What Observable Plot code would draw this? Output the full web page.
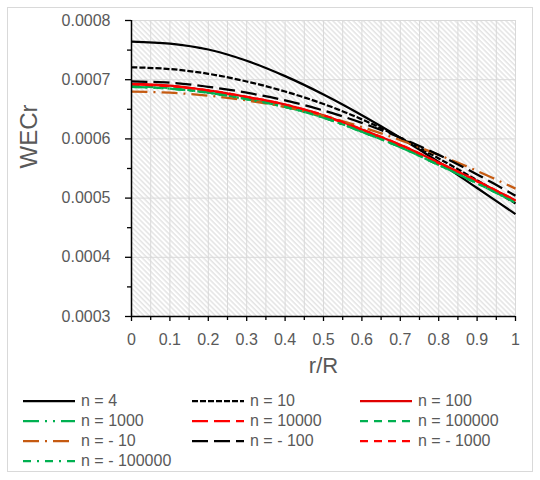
<!DOCTYPE html>
<html><head><meta charset="utf-8">
<script src="https://cdn.jsdelivr.net/npm/d3@7"></script>
<script src="https://cdn.jsdelivr.net/npm/@observablehq/plot@0.6"></script>
<style>
body{margin:0;background:#fff;font-family:"Liberation Sans",Arial,sans-serif;}
#wrap{position:relative;width:540px;height:480px;overflow:hidden}
#border{position:absolute;left:7px;top:7px;width:526px;height:465px;border:1px solid #d9d9d9;box-sizing:border-box}
#chart{position:absolute;left:0;top:0}
.item{position:absolute;height:20px;display:flex;align-items:center;font-size:16px;color:#595959;white-space:nowrap}
.item svg{margin-right:6px}
</style></head>
<body>
<div id="wrap"><div id="border"></div><div id="chart"></div><div id="legend"></div></div>
<script>
// ---- data ----
const xs = [0, 0.1, 0.2, 0.3, 0.4, 0.5, 0.6, 0.7, 0.8, 0.9, 1];
const seriesNames = ["n = 4", "n = 10", "n = 100", "n = 1000", "n = 10000", "n = 100000", "n = - 10", "n = - 100", "n = - 1000", "n = - 100000"];
const n4      = [0.0007645, 0.000761, 0.000751, 0.000732, 0.000706, 0.000675, 0.000640, 0.000602, 0.000561, 0.000517, 0.000473];
const n10     = [0.000721, 0.000718, 0.000710, 0.000697, 0.000680, 0.000659, 0.000633, 0.000602, 0.000567, 0.000530, 0.000491];
const n100    = [0.000693, 0.000690, 0.000682, 0.000671, 0.000658, 0.000640, 0.000616, 0.000590, 0.000560, 0.000529, 0.000496];
const n1000   = [0.000688, 0.000685, 0.000678, 0.000667, 0.000654, 0.000636, 0.000612, 0.000586, 0.000556, 0.000525, 0.000493];
const n10000  = [0.000692, 0.000689, 0.000681, 0.000670, 0.000657, 0.000639, 0.000615, 0.000589, 0.000559, 0.000528, 0.000495];
const n100000 = [0.000689, 0.000686, 0.000678, 0.000667, 0.000654, 0.000636, 0.000612, 0.000586, 0.000556, 0.000525, 0.000493];
const nm10    = [0.000680, 0.000678, 0.000673, 0.000665, 0.000654, 0.000639, 0.000620, 0.000598, 0.000573, 0.000546, 0.000516];
const nm100   = [0.000697, 0.000695, 0.000688, 0.000678, 0.000665, 0.000648, 0.000627, 0.000602, 0.000573, 0.000540, 0.000504];
const nm1000  = [0.000692, 0.000689, 0.000682, 0.000671, 0.000658, 0.000640, 0.000616, 0.000590, 0.000560, 0.000529, 0.000496];
const nm100000= [0.000688, 0.000685, 0.000678, 0.000667, 0.000654, 0.000636, 0.000612, 0.000586, 0.000556, 0.000525, 0.000492];
const xTicks = [0, 0.1, 0.2, 0.3, 0.4, 0.5, 0.6, 0.7, 0.8, 0.9, 1];
const xTickLabels = ["0", "0.1", "0.2", "0.3", "0.4", "0.5", "0.6", "0.7", "0.8", "0.9", "1"];
const xMinorTicks = [0.05, 0.15, 0.25, 0.35, 0.45, 0.55, 0.65, 0.75, 0.85, 0.95];
const yTicks = [0.0003, 0.0004, 0.0005, 0.0006, 0.0007, 0.0008];
const yTickLabels = ["0.0003", "0.0004", "0.0005", "0.0006", "0.0007", "0.0008"];
const yMinorTicks = [0.00035, 0.00045, 0.00055, 0.00065, 0.00075];
const xLabel = "r/R";
const yLabel = "WECr";

// ---- styles ----
const seriesValues = [n4, n10, n100, n1000, n10000, n100000, nm10, nm100, nm1000, nm100000];
const styles = [
  {stroke: "#000000", dash: null},
  {stroke: "#000000", dash: "6,2"},
  {stroke: "#e00000", dash: null},
  {stroke: "#00b050", dash: "16,6,2,6,2,6"},
  {stroke: "#ff0000", dash: "16,6"},
  {stroke: "#00b050", dash: "8,6"},
  {stroke: "#c55a11", dash: "16,6,2,6"},
  {stroke: "#000000", dash: "16,6"},
  {stroke: "#ff0000", dash: "8,6"},
  {stroke: "#00b050", dash: "8,6,2,6"}
];

const table = seriesNames.map((name, s) => xs.map((x, i) => ({x, y: seriesValues[s][i], name})));

const xFmt = new Map(xTicks.map((t, i) => [t, xTickLabels[i]]));
const yFmt = new Map(yTicks.map((t, i) => [t, yTickLabels[i]]));

const lineMarks = table.map((rows, s) => Plot.line(rows, {
  x: "x", y: "y", stroke: styles[s].stroke, strokeWidth: 2.25,
  strokeDasharray: styles[s].dash, curve: "catmull-rom", strokeLinecap: "butt"
}));

const plot = Plot.plot({
  width: 540, height: 380,
  marginLeft: 131, marginRight: 25, marginTop: 20, marginBottom: 64,
  x: {domain: [0, 1]},
  y: {domain: [0.0003, 0.0008]},
  style: {fontFamily: "'Liberation Sans', Arial, sans-serif", color: "#595959", background: "transparent", overflow: "visible"},
  marks: [
    Plot.frame({fill: "url(#hatch)", stroke: "none"}),
    Plot.gridX([...xTicks, ...xMinorTicks], {stroke: "#d9d9d9", strokeOpacity: 1, strokeWidth: 1}),
    Plot.gridY(yTicks, {stroke: "#d9d9d9", strokeOpacity: 1, strokeWidth: 1}),
    ...lineMarks,
    Plot.axisX(xTicks, {tickSize: 5, tickPadding: 12, tickFormat: d => xFmt.get(d), fontSize: 16, stroke: "#000", strokeWidth: 1.3, fill: "#595959", label: null}),
    Plot.axisX(xMinorTicks, {tickSize: 4, tickFormat: () => "", stroke: "#000", strokeWidth: 1.3, label: null}),
    Plot.axisY(yTicks, {tickSize: 6, tickPadding: 15, tickFormat: d => yFmt.get(d), fontSize: 16, stroke: "#000", strokeWidth: 1.3, fill: "#595959", label: null}),
    Plot.axisY(yMinorTicks, {tickSize: 4, tickFormat: () => "", stroke: "#000", strokeWidth: 1.3, label: null}),
    Plot.ruleX([0], {stroke: "#000", strokeWidth: 1.5}),
    Plot.ruleY([0.0003], {stroke: "#000", strokeWidth: 1.5}),
    Plot.text([xLabel], {frameAnchor: "bottom", dy: 49, lineAnchor: "middle", fontSize: 22, fill: "#595959"}),
    Plot.text([yLabel], {frameAnchor: "left", dx: -102, rotate: -90, lineAnchor: "middle", fontSize: 24, fill: "#595959"})
  ]
});

const svg = d3.select(plot);
const defs = svg.insert("defs", ":first-child");
const pat = defs.append("pattern").attr("id", "hatch").attr("patternUnits", "userSpaceOnUse")
  .attr("width", 3.6).attr("height", 3.6).attr("patternTransform", "rotate(-45)");
pat.append("rect").attr("width", 3.6).attr("height", 3.6).attr("fill", "#ffffff");
pat.append("line").attr("x1", 1).attr("y1", 0).attr("x2", 1).attr("y2", 3.6)
  .attr("stroke", "#dadada").attr("stroke-width", 1.1);
document.getElementById("chart").appendChild(plot);

// ---- legend ----
const legendCols = [23, 192, 360];
const legendRows = [401, 421, 441, 461];
const legend = document.getElementById("legend");
seriesNames.forEach((name, s) => {
  const col = s % 3, row = Math.floor(s / 3);
  const div = document.createElement("div");
  div.className = "item";
  div.style.left = legendCols[col] + "px";
  div.style.top = (legendRows[row] - 10) + "px";
  const st = styles[s];
  div.innerHTML = `<svg width="52" height="20"><line x1="0" y1="10" x2="52" y2="10" stroke="${st.stroke}" stroke-width="2.25"${st.dash ? ` stroke-dasharray="${st.dash}"` : ""}/></svg><span>${name}</span>`;
  legend.appendChild(div);
});
</script>
</body></html>
